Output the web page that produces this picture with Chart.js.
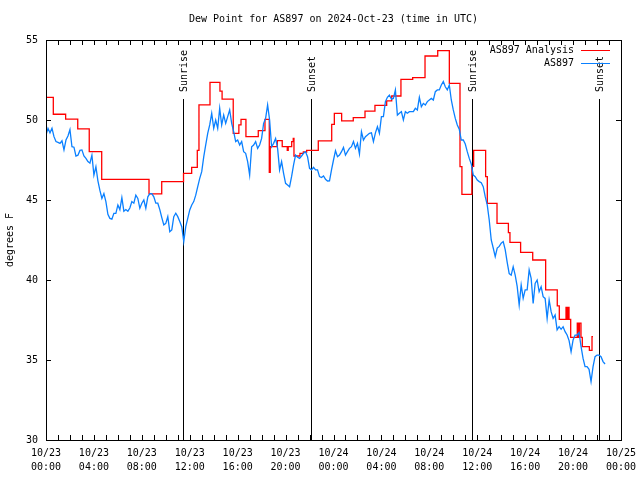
<!DOCTYPE html>
<html>
<head>
<meta charset="UTF-8">
<title>Dew Point for AS897</title>
<script src="https://cdn.jsdelivr.net/npm/chart.js@4.4.1/dist/chart.umd.min.js"></script>
<style>
    html, body { margin: 0; padding: 0; background: #fff; }
</style>
</head>
<body>
<canvas id="chart" width="640" height="480"></canvas>
<script>
const FONT = '"DejaVu Sans Mono", "Liberation Mono", monospace';

// station obs (blue), one value every 10 minutes from 10/23 00:00 UTC
const obsStartHour = 0;
const obsStepHours = 1 / 6;
const obsValues = [
    49.06, 49.48, 49.2, 49.48, 48.96, 48.65, 48.6, 48.54, 48.7, 48.13,
    48.75, 49.0, 49.4, 48.33, 48.3, 47.75, 47.8, 48.1, 48.13, 47.75,
    47.6, 47.4, 47.3, 47.8, 46.56, 47.08, 46.2, 45.6, 45.1, 45.4,
    44.9, 44.1, 43.85, 43.8, 44.17, 44.17, 44.69, 44.4, 45.15, 44.3,
    44.4, 44.3, 44.5, 44.9, 44.8, 45.3, 45.1, 44.48, 44.8, 45.0,
    44.48, 45.2, 45.4, 45.4, 45.2, 44.8, 44.8, 44.4, 43.9, 43.44,
    43.54, 43.96, 43.02, 43.13, 43.96, 44.17, 43.96, 43.65, 43.33, 42.4,
    43.33, 43.85, 44.38, 44.69, 44.9, 45.3, 45.83, 46.35, 46.77, 47.7,
    48.44, 49.17, 49.69, 50.42, 49.48, 50.0, 49.48, 50.73, 49.69, 50.31,
    49.79, 50.21, 50.63, 49.79, 49.27, 48.65, 48.75, 48.44, 48.65, 48.02,
    47.92, 47.4, 46.56, 48.33, 48.44, 48.65, 48.23, 48.44, 48.85, 49.79,
    50.1, 50.94, 50.0, 48.33, 48.54, 48.85, 48.23, 46.88, 47.4, 46.67,
    46.04, 45.94, 45.83, 46.46, 47.19, 47.81, 47.67, 47.6, 47.75, 47.92,
    48.02, 47.71, 46.98, 46.88, 47.04, 46.88, 46.88, 46.46, 46.4, 46.5,
    46.29, 46.19, 46.2, 46.88, 47.5, 48.08, 47.71, 47.81, 48.02, 48.29,
    47.81, 48.02, 48.23, 48.33, 48.65, 48.23, 48.54, 47.88, 49.27, 48.75,
    48.96, 49.06, 49.17, 49.2, 48.65, 49.2, 49.58, 49.17, 50.21, 50.21,
    51.15, 51.42, 51.56, 51.3, 51.35, 51.88, 50.31, 50.42, 50.52, 50.0,
    50.52, 50.42, 50.52, 50.52, 50.52, 50.73, 50.63, 51.42, 50.83, 51.04,
    50.94, 51.15, 51.25, 51.35, 51.25, 51.77, 51.88, 51.88, 52.19, 52.4,
    52.08, 51.88, 52.19, 51.25, 50.63, 50.1, 49.69, 49.42, 48.75, 48.75,
    48.5, 48.02, 47.6, 47.25, 46.56, 46.46, 46.25, 46.15, 46.08, 45.83,
    45.21, 44.69, 43.75, 42.5, 42.0, 41.46, 42.0, 42.1, 42.3, 42.4,
    41.9, 41.1, 40.4, 40.3, 40.83, 40.31, 39.6, 38.44, 39.69, 38.85,
    39.38, 39.38, 40.63, 40.1, 38.54, 39.79, 40.0, 39.27, 39.58, 38.96,
    38.85, 37.6, 38.75, 38.02, 37.6, 37.81, 36.88, 37.08, 36.92, 37.08,
    36.77, 36.56, 36.21, 35.52, 36.25, 36.56, 36.56, 36.71, 35.83, 35.1,
    34.58, 34.58, 34.42, 33.65, 34.58, 35.21, 35.31, 35.31, 35.21, 34.9, 34.75
];

// analysis (red): hour where each new value starts, and the value
const analysisHours = [
    0, 0.61, 1.64, 2.65, 3.61, 4.65, 8.6, 9.66,
    11.48, 12.16, 12.63, 12.77, 13.69, 14.52, 14.7,
    15.63, 16.1, 16.28, 16.69, 17.72, 18.28, 18.64, 18.72, 19.31,
    19.72, 20.14, 20.22, 20.51, 20.64, 20.7, 21.2, 21.48, 21.76,
    22.73, 23.85, 24.07, 24.68, 25.65, 26.63, 27.46, 28.44, 28.86,
    29.63, 30.61, 31.64, 32.7, 33.67, 34.56, 34.72, 35.55, 35.7,
    36.7, 36.84, 37.65, 38.6, 38.73, 39.62, 40.63, 41.71, 42.68, 42.85,
    43.41, 43.52, 43.57, 43.66, 43.8, 44.35, 44.43, 44.53, 44.66, 44.77,
    45.36, 45.58, 45.66
];
const analysisValues = [
    51.42, 50.36, 50.05, 49.44, 48.02, 46.29, 45.38, 46.15,
    46.67, 47.04, 48.1, 50.94, 52.35, 51.8, 51.31,
    49.17, 49.69, 50.04, 48.96, 49.33, 50.04, 46.73, 48.33, 48.71,
    48.33, 48.1, 48.33, 48.65, 48.85, 47.75, 47.92, 48.0, 48.1,
    48.69, 49.73, 50.42, 49.94, 50.15, 50.56, 50.92, 51.19, 51.5,
    52.54, 52.65, 54.0, 54.33, 52.29, 47.08, 45.35, 47.1, 48.1,
    46.46, 44.79, 43.54, 42.96, 42.35, 41.73, 41.25, 39.38, 38.38, 37.54,
    38.29, 37.54, 38.29, 37.54, 36.42, 37.3, 36.42, 37.3, 36.42, 35.83,
    35.6, 36.46, 36.46
];

const xTickLabels = [
    ['10/23', '00:00'], ['10/23', '04:00'], ['10/23', '08:00'], ['10/23', '12:00'],
    ['10/23', '16:00'], ['10/23', '20:00'], ['10/24', '00:00'], ['10/24', '04:00'],
    ['10/24', '08:00'], ['10/24', '12:00'], ['10/24', '16:00'], ['10/24', '20:00'],
    ['10/25', '00:00']
];

const eventHours = [11.46, 22.09, 35.53, 46.13];
const eventNames = ['Sunrise', 'Sunset', 'Sunrise', 'Sunset'];

const chartTitle = 'Dew Point for AS897 on 2024-Oct-23 (time in UTC)';

// box, inward ticks, sun lines, legend and title in gnuplot style
const gnuplotFrame = {
    id: 'gnuplotFrame',
    beforeDatasetsDraw(chart) {
        const {ctx, chartArea: a, scales: {x}} = chart;
        ctx.save();
        ctx.strokeStyle = '#000';
        ctx.lineWidth = 1;
        ctx.fillStyle = '#000';
        ctx.font = '10px ' + FONT;
        eventHours.forEach((h, i) => {
            const px = Math.round(x.getPixelForValue(h)) + 0.5;
            ctx.beginPath();
            ctx.moveTo(px, a.top + 59);
            ctx.lineTo(px, a.bottom);
            ctx.stroke();
            ctx.save();
            ctx.translate(px + 1, a.top + 52);
            ctx.rotate(-Math.PI / 2);
            ctx.textAlign = 'left';
            ctx.textBaseline = 'middle';
            ctx.fillText(eventNames[i], 0, 0);
            ctx.restore();
        });
        ctx.restore();
    },
    afterDraw(chart) {
        const {ctx, chartArea: a, scales: {x, y}} = chart;
        ctx.save();
        ctx.strokeStyle = '#000';
        ctx.lineWidth = 1;
        ctx.strokeRect(a.left + 0.5, a.top + 0.5, a.right - a.left, a.bottom - a.top);

        ctx.beginPath();
        for (let h = x.min; h <= x.max; h++) {
            const px = Math.round(x.getPixelForValue(h)) + 0.5;
            ctx.moveTo(px, a.bottom);
            ctx.lineTo(px, a.bottom - 5);
            ctx.moveTo(px, a.top);
            ctx.lineTo(px, a.top + 5);
        }
        for (let v = y.min; v <= y.max; v += 5) {
            const py = Math.round(y.getPixelForValue(v)) + 0.5;
            ctx.moveTo(a.left, py);
            ctx.lineTo(a.left + 5, py);
            ctx.moveTo(a.right, py);
            ctx.lineTo(a.right - 5, py);
        }
        ctx.stroke();

        ctx.fillStyle = '#000';
        ctx.font = '10px ' + FONT;
        ctx.textAlign = 'center';
        ctx.textBaseline = 'middle';
        ctx.fillText(chartTitle, (a.left + a.right) / 2, 19);

        // legend
        ctx.textAlign = 'right';
        chart.data.datasets.slice().sort((p, q) => q.order - p.order).forEach((ds, i) => {
            const ly = a.top + 10 + i * 13;
            ctx.fillStyle = '#000';
            ctx.fillText(ds.label, a.right - 47, ly);
            ctx.strokeStyle = ds.borderColor;
            ctx.beginPath();
            ctx.moveTo(a.right - 40, Math.round(ly) + 0.5);
            ctx.lineTo(a.right - 11, Math.round(ly) + 0.5);
            ctx.stroke();
        });
        ctx.restore();
    }
};

new Chart(document.getElementById('chart'), {
    type: 'line',
    data: {
        datasets: [
            {
                label: 'AS897 Analysis',
                data: analysisHours.map((h, i) => ({x: h, y: analysisValues[i]})),
                borderColor: '#ff0000',
                borderWidth: 1.3,
                pointRadius: 0,
                stepped: true,
                order: 2
            },
            {
                label: 'AS897',
                data: obsValues.map((v, i) => ({x: obsStartHour + i * obsStepHours, y: v})),
                borderColor: '#0a80ff',
                borderWidth: 1.3,
                pointRadius: 0,
                tension: 0,
                order: 1
            }
        ]
    },
    options: {
        responsive: false,
        animation: false,
        layout: { padding: { left: 0, right: 19, top: 40, bottom: 0 } },
        plugins: {
            legend: { display: false },
            title: { display: false },
            tooltip: { enabled: false }
        },
        scales: {
            x: {
                type: 'linear',
                min: 0,
                max: 48,
                grid: { display: false, drawTicks: false },
                border: { display: false },
                ticks: {
                    stepSize: 4,
                    autoSkip: false,
                    maxRotation: 0,
                    padding: 6,
                    color: '#000',
                    font: { family: FONT, size: 10, lineHeight: 1.4 },
                    callback: (v) => xTickLabels[v / 4]
                },
                afterFit: (scale) => {
                    scale.height = 40;
                    scale.paddingLeft = 0;
                    scale.paddingRight = 0;
                }
            },
            y: {
                min: 30,
                max: 55,
                grid: { display: false, drawTicks: false },
                border: { display: false },
                ticks: {
                    stepSize: 5,
                    padding: 8,
                    color: '#000',
                    font: { family: FONT, size: 10 }
                },
                title: {
                    display: true,
                    text: 'degrees F',
                    color: '#000',
                    font: { family: FONT, size: 10 },
                    padding: { top: 4, bottom: 0 }
                },
                afterFit: (scale) => {
                    scale.width = 46;
                    scale.paddingTop = 0;
                    scale.paddingBottom = 0;
                }
            }
        }
    },
    plugins: [gnuplotFrame]
});
</script>
</body>
</html>
